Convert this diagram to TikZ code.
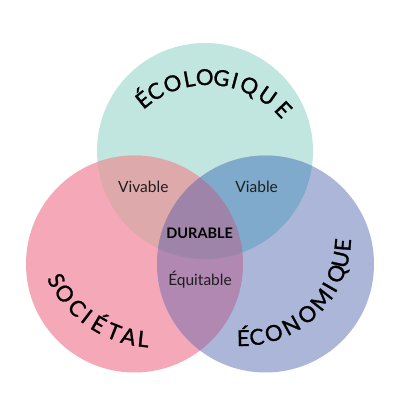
\documentclass[tikz,border=0pt]{standalone}
\usepackage{fontspec}
\setmainfont{Lato}
\newfontfamily\arcfont[FakeBold=1.2]{Lato}
\usetikzlibrary{calc}
\definecolor{cteal}{HTML}{C1E6E0}
\definecolor{cpink}{HTML}{F4A8B8}
\definecolor{cblue}{HTML}{ABB6D8}
\definecolor{ctl}{HTML}{DDA9AA}
\definecolor{ctr}{HTML}{7FAACB}
\definecolor{clr}{HTML}{B088B1}
\definecolor{cmid}{HTML}{9E84A8}
\definecolor{ctext}{HTML}{1E1E1E}
\tikzset{
  arcletter/.style={inner sep=0pt, anchor=base, text=black, font=\arcfont\fontsize{22}{26}\selectfont},
  zonelabel/.style={inner sep=0pt, anchor=base, text=ctext, font=\fontsize{15.5}{18}\selectfont},
  corelabel/.style={inner sep=0pt, anchor=base, text=black, font=\bfseries\fontsize{14.5}{17}\selectfont}
}
\begin{document}
\begin{tikzpicture}[x=1pt,y=1pt]
\useasboundingbox (0,0) rectangle (400,400);
\fill[white] (0,0) rectangle (400,400);
\coordinate (cT) at (205,249);
\coordinate (cL) at (134.5,136);
\coordinate (cR) at (265.5,136);
\coordinate (aT) at (208,219);
\coordinate (aL) at (155,172);
\coordinate (aR) at (242,163);
% base discs
\fill[cteal] (cT) circle (108pt);
\fill[cpink] (cL) circle (108.5pt);
\fill[cblue] (cR) circle (108.5pt);
% overlaps
\begin{scope}
  \clip (cL) circle (108.5pt);
  \fill[ctl] (cT) circle (108pt);
\end{scope}
\begin{scope}
  \clip (cR) circle (108.5pt);
  \fill[ctr] (cT) circle (108pt);
\end{scope}
\begin{scope}
  \clip (cL) circle (108.5pt);
  \fill[clr] (cR) circle (108.5pt);
\end{scope}
\begin{scope}
  \clip (cL) circle (108.5pt);
  \clip (cR) circle (108.5pt);
  \fill[cmid] (cT) circle (108pt);
\end{scope}
% curved titles
\foreach \ch/\a [count=\i] in {É/128.5,C/120.5,O/110,L/100.5,O/91.8,G/82.5,I/75,Q/66.5,U/55,E/43.5}
  \node[arcletter, rotate=\a-90] (eco\i) at ($(aT)+(\a:96pt)$) {\ch};
\foreach \ch/\a [count=\i] in {S/208,O/216,C/225.7,I/232.4,É/239.7,T/248.4,A/256.4,L/264}
  \node[arcletter, rotate=\a+90] (soc\i) at ($(aL)+(\a:119.5pt)$) {\ch};
\foreach \ch/\a [count=\i] in {É/270.7,C/278.4,O/288.3,N/299.1,O/310.3,M/321.7,I/330.2,Q/338.8,U/347.2,E/355.5}
  \node[arcletter, rotate=\a+90] (econ\i) at ($(aR)+(\a:109pt)$) {\ch};
% zone labels
\node[zonelabel] (vivable) at (143.3,207.3) {Vivable};
\node[zonelabel] (viable) at (256.7,207.3) {Viable};
\node[corelabel] (durable) at (199.7,161.3) {DURABLE};
\node[zonelabel] (equitable) at (200,114) {Équitable};
\end{tikzpicture}
\end{document}
